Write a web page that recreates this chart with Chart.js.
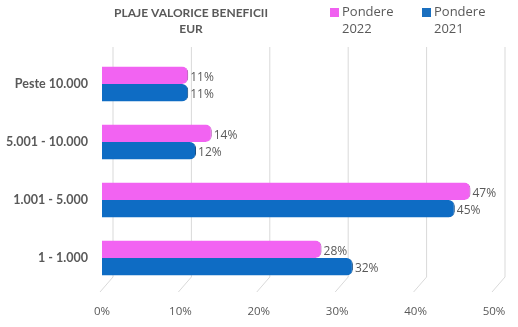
<!DOCTYPE html>
<html>
<head>
<meta charset="utf-8">
<script src="https://cdn.jsdelivr.net/npm/chart.js@4/dist/chart.umd.min.js"></script>
<style>
  html, body { margin: 0; padding: 0; background: #fff; }
  #wrap { width: 518px; height: 327px; }
</style>
</head>
<body>
<div id="wrap"><canvas id="grafic"></canvas></div>
<script>
const categorii = ["Peste 10.000", "5.001 - 10.000", "1.001 - 5.000", "1 - 1.000"];
const pondere2022 = [11, 14, 47, 28];
const pondere2021 = [11, 12, 45, 32];
const titlu = ["PLAJE VALORICE BENEFICII", "EUR"];
const etichete = [["Pondere", "2022"], ["Pondere", "2021"]];

const gri = '#595959';

// gradient pe verticala pentru efect de cilindru
function cilindru(culori) {
  return function (ctx) {
    const chart = ctx.chart;
    if (!chart.chartArea || !ctx.element) return culori[1];
    const el = ctx.element;
    const h = el.height || 16;
    const y0 = el.y - h / 2, y1 = el.y + h / 2;
    if (!isFinite(y0) || !isFinite(y1)) return culori[1];
    const g = chart.ctx.createLinearGradient(0, y0, 0, y1);
    g.addColorStop(0, culori[0]);
    g.addColorStop(0.35, culori[1]);
    g.addColorStop(1, culori[2]);
    return g;
  };
}

const gridSpate = {
  id: 'gridSpate',
  beforeDatasetsDraw(chart) {
    const { ctx, chartArea, scales } = chart;
    ctx.save();
    ctx.strokeStyle = '#d9d9d9';
    ctx.lineWidth = 1;
    scales.x.ticks.forEach(t => {
      const x = scales.x.getPixelForValue(t.value);
      ctx.beginPath();
      ctx.moveTo(x + 11, chartArea.top - 8);
      ctx.lineTo(x + 11, chartArea.bottom - 10);
      ctx.lineTo(x - 2, chartArea.bottom + 5);
      ctx.stroke();
    });
    ctx.restore();
  }
};

const etichetePuncte = {
  id: 'etichetePuncte',
  afterDatasetsDraw(chart) {
    const { ctx } = chart;
    ctx.save();
    ctx.font = '12px "Open Sans"';
    ctx.fillStyle = gri;
    ctx.textBaseline = 'middle';
    chart.data.datasets.forEach((ds, i) => {
      chart.getDatasetMeta(i).data.forEach((bar, j) => {
        ctx.fillText(ds.data[j] + '%', bar.x + 2, bar.y + 2);
      });
    });
    ctx.restore();
  }
};

const titluLegenda = {
  id: 'titluLegenda',
  afterDraw(chart) {
    const { ctx } = chart;
    ctx.save();
    ctx.fillStyle = gri;
    ctx.textBaseline = 'middle';
    ctx.textAlign = 'center';
    ctx.font = 'bold 12px Lato';
    ctx.fillText(titlu[0], 191, 13);
    ctx.fillText(titlu[1], 191, 29);
    ctx.textAlign = 'left';
    ctx.font = '13px "Open Sans"';
    const xs = [330, 422];
    chart.data.datasets.forEach((ds, i) => {
      ctx.fillStyle = ds.culoareLegenda;
      ctx.fillRect(xs[i], 8, 9, 9);
      ctx.fillStyle = gri;
      ctx.fillText(etichete[i][0], xs[i] + 12, 12);
      ctx.fillText(etichete[i][1], xs[i] + 12, 29);
    });
    ctx.restore();
  }
};

new Chart(document.getElementById('grafic'), {
  type: 'bar',
  data: {
    labels: categorii,
    datasets: [
      {
        label: 'Pondere 2022',
        data: pondere2022,
        culoareLegenda: '#f060f0',
        backgroundColor: cilindru(['#ff9cff', '#f263f2', '#b33ab3']),
        borderColor: '#a83aa8',
        borderWidth: { right: 1 },
        borderRadius: { topRight: 6, bottomRight: 6 },
        borderSkipped: false
      },
      {
        label: 'Pondere 2021',
        data: pondere2021,
        culoareLegenda: '#1a6fbf',
        backgroundColor: cilindru(['#3a95e6', '#0e6cc4', '#084580']),
        borderColor: '#073e73',
        borderWidth: { right: 1 },
        borderRadius: { topRight: 6, bottomRight: 6 },
        borderSkipped: false
      }
    ]
  },
  options: {
    indexAxis: 'y',
    responsive: true,
    maintainAspectRatio: false,
    animation: false,
    layout: { padding: { top: 55, right: 24, left: 0, bottom: 0 } },
    plugins: {
      legend: { display: false },
      title: { display: false },
      tooltip: { enabled: false }
    },
    datasets: {
      bar: { categoryPercentage: 0.6, barPercentage: 1.0 }
    },
    scales: {
      x: {
        min: 0,
        max: 50,
        ticks: {
          stepSize: 10,
          padding: 10,
          color: gri,
          font: { family: 'Open Sans', size: 11.5 },
          callback: v => v + '%'
        },
        grid: { display: false },
        border: { display: false },
        afterFit(scale) { scale.height = 40; }
      },
      y: {
        ticks: {
          color: gri,
          padding: 6,
          font: { family: 'Lato', size: 12.5, weight: 'bold' }
        },
        grid: { display: false },
        border: { display: false },
        afterFit(scale) { scale.width = 102; }
      }
    }
  },
  plugins: [gridSpate, etichetePuncte, titluLegenda]
});
</script>
</body>
</html>
